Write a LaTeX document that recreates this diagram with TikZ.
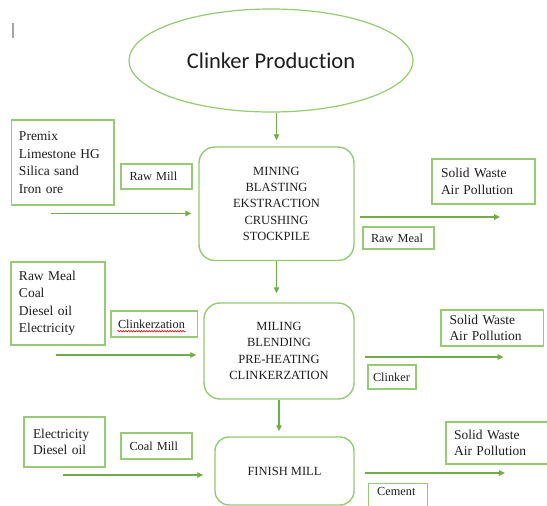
\documentclass[tikz,border=0pt]{standalone}
\usepackage{fontspec}
\setmainfont{Liberation Serif}
\newfontfamily\calib[Ligatures={NoCommon,NoRare}]{Carlito}
\usetikzlibrary{shapes.geometric,arrows.meta,calc,decorations.pathmorphing}

\definecolor{boxgreen}{RGB}{150,202,116}
\definecolor{arrgreen}{RGB}{112,173,71}
\definecolor{inkgray}{RGB}{30,30,30}

\tikzset{
  listbox/.style={draw=boxgreen, line width=1.4pt, inner ysep=0pt, align=left,
    text=inkgray, font=\fontsize{13.5}{17.5}\selectfont},
  tagbox/.style={draw=boxgreen, line width=1.4pt, inner ysep=0pt, align=left,
    text=inkgray, font=\fontsize{12.3}{14}\selectfont},
  stagebox/.style={draw=boxgreen, line width=1.4pt, rounded corners=16pt, align=center,
    text=inkgray, font=\fontsize{12.5}{16.3}\selectfont},
  flow/.style={draw=arrgreen, line width=1.3pt, -{Triangle[length=6pt,width=5.5pt]}},
}

\begin{document}
\begin{tikzpicture}[x=1pt,y=-1pt]
  \fill[white] (0,0) rectangle (547,506);
  \useasboundingbox (0,0) rectangle (547,506);

  % text cursor mark
  \draw[gray!70, line width=1.2pt] (13,23) -- (13,38);

  % title
  \node[draw=boxgreen, line width=1.2pt, ellipse, minimum width=284pt, minimum height=103pt,
        inner sep=0pt, text=inkgray, font=\calib\fontsize{22.5}{27}\selectfont]
        (title) at (271,60.5) {Clinker Production};

  % stage 1
  \node[listbox, inner xsep=7.5pt, text width=87.5pt, minimum height=85pt] (inA) at (62.75,162.5)
        {Premix\\Limestone HG\\Silica sand\\Iron ore};
  \node[tagbox, inner xsep=8.5pt, text width=54pt, minimum height=25pt] (rawmill) at (156.5,176.5) {Raw Mill};
  \node[stagebox, minimum width=155pt, minimum height=113.5pt] (mining) at (276.5,203.75)
        {MINING\\BLASTING\\EKSTRACTION\\CRUSHING\\STOCKPILE};
  \node[listbox, inner xsep=9pt, text width=85pt, minimum height=45pt] (wasteA) at (483.5,181.5)
        {Solid Waste\\Air Pollution};
  \node[tagbox, inner xsep=8pt, text width=55pt, minimum height=22pt] (rawmeal) at (398.5,238) {Raw Meal};

  % stage 2
  \node[listbox, inner xsep=8pt, text width=78pt, minimum height=83pt] (inB) at (58,303.5)
        {Raw Meal\\Coal\\Diesel oil\\Electricity};
  \node[tagbox, inner xsep=7pt, text width=72.5pt, minimum height=26pt] (clk) at (154.25,324) {Clinkerzation};
  \draw[red, line width=0.6pt, decorate, decoration={snake, amplitude=0.7pt, segment length=2.6pt}]
        ($(clk.base west)+(7,3)$) -- ($(clk.base west)+(75,3)$);
  \node[stagebox, minimum width=150pt, minimum height=96pt] (miling) at (279,351)
        {MILING\\BLENDING\\PRE-HEATING\\CLINKERZATION};
  \node[listbox, font=\fontsize{13.5}{16.5}\selectfont, inner xsep=8.5pt, text width=85.5pt,
        minimum height=36pt] (wasteB) at (492.25,328) {Solid Waste\\Air Pollution};
  \node[tagbox, inner xsep=5pt, text width=38pt, minimum height=24pt] (clinker) at (392,377) {Clinker};

  % stage 3
  \node[listbox, font=\fontsize{13.5}{15.5}\selectfont, inner xsep=9pt, text width=63pt,
        minimum height=50pt] (inC) at (64.5,442) {Electricity\\Diesel oil};
  \node[tagbox, inner xsep=8.5pt, text width=54pt, minimum height=26pt] (coalmill) at (156.5,446) {Coal Mill};
  \node[stagebox, rounded corners=14pt, minimum width=139pt, minimum height=68pt] (finish) at (284.5,471)
        {FINISH MILL};
  \node[listbox, font=\fontsize{13.5}{16.5}\selectfont, inner xsep=8pt, text width=98pt,
        minimum height=42pt] (wasteC) at (503,443) {Solid Waste\\Air Pollution};
  \node[tagbox, anchor=north west, inner xsep=8.5pt, inner ysep=4pt, text width=42pt,
        text depth=25pt] (cement) at (368,483) {Cement};

  % vertical flow between stages
  \draw[flow, shorten >=6pt] (mining.north |- title.south) -- (mining.north);
  \draw[flow, shorten >=9pt] (mining.south) -- (mining.south |- miling.north);
  \draw[flow, shorten >=5pt] (miling.south) -- (miling.south |- finish.north);

  % inputs and outputs
  \coordinate (srcA) at (50.5,213.5);
  \draw[flow, shorten >=7pt] (srcA) -- (srcA -| mining.west);
  \coordinate (dstA) at (500,217);
  \draw[flow, shorten <=5pt] (dstA -| mining.east) -- (dstA);

  \coordinate (srcB) at (56,355);
  \draw[flow, shorten >=7pt] (srcB) -- (srcB -| miling.west);
  \coordinate (dstB) at (503.5,357);
  \draw[flow, shorten <=10pt] (dstB -| miling.east) -- (dstB);

  \coordinate (srcC) at (63,475);
  \draw[flow, shorten >=11pt] (srcC) -- (srcC -| finish.west);
  \coordinate (dstC) at (505,473);
  \draw[flow, shorten <=10pt] (dstC -| finish.east) -- (dstC);
\end{tikzpicture}
\end{document}
